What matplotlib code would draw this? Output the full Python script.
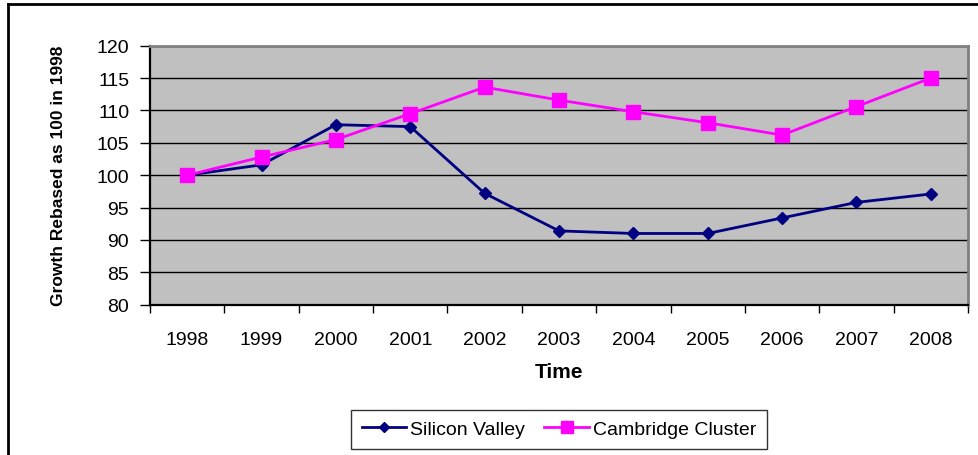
import numpy as np
import matplotlib
matplotlib.use("Agg")
import matplotlib.pyplot as plt
from matplotlib.lines import Line2D

plt.rcParams["font.family"] = ["Liberation Sans", "DejaVu Sans"]

years = ["1998", "1999", "2000", "2001", "2002", "2003",
         "2004", "2005", "2006", "2007", "2008"]
silicon_valley = [100.0, 101.6, 107.8, 107.5, 97.2, 91.4,
                  91.0, 91.0, 93.4, 95.8, 97.1]
cambridge = [100.0, 102.8, 105.5, 109.5, 113.6, 111.6,
             109.8, 108.1, 106.2, 110.6, 115.0]

W, H = 979, 456
fig = plt.figure(figsize=(W / 100, H / 100), dpi=100)

# outer chart border, only the left and top edges fall inside the image
fig.lines.append(Line2D([8 / W, 8 / W], [0, 1 - 5 / H], transform=fig.transFigure,
                        color="black", linewidth=2))
fig.lines.append(Line2D([8 / W, 1], [1 - 5 / H, 1 - 5 / H], transform=fig.transFigure,
                        color="black", linewidth=2))

ax = fig.add_axes([150 / W, (H - 305.7) / H, 818 / W, 259 / H])
ax.set_facecolor("#C0C0C0")

x = np.arange(len(years))
ax.plot(x, silicon_valley, color="#000080", linewidth=2,
        marker="D", markersize=6.5, label="Silicon Valley", zorder=3)
ax.plot(x, cambridge, color="#FF00FF", linewidth=2,
        marker="s", markersize=10, label="Cambridge Cluster", zorder=3)

ax.set_xlim(-0.5, len(years) - 0.5)
ax.set_ylim(80, 120)
ax.set_yticks(np.arange(80, 121, 5))
ax.yaxis.grid(True, color="black", linewidth=1)
ax.set_axisbelow(True)

ax.set_xticks(x)
ax.set_xticklabels(years)
ax.set_xticks(np.arange(-0.5, len(years)), minor=True)
ax.tick_params(axis="x", which="major", length=0, pad=19, labelsize=14)
ax.tick_params(axis="x", which="minor", length=6, width=1, color="black", direction="out")
ax.tick_params(axis="y", length=7, width=1, labelsize=14, pad=8)

for side in ("left", "bottom"):
    ax.spines[side].set_color("black")
    ax.spines[side].set_linewidth(1.6)
for side in ("top", "right"):
    ax.spines[side].set_color("#808080")
    ax.spines[side].set_linewidth(2)

ax.set_xlabel("Time", fontsize=15, fontweight="bold", labelpad=10)
ax.set_ylabel("Growth Rebased as 100 in 1998", fontsize=12.5,
              fontweight="bold", labelpad=22)

leg = fig.legend(loc="center", bbox_to_anchor=(559 / W, 1 - 430 / H),
                 ncol=2, frameon=True, fancybox=False, fontsize=14,
                 handlelength=2.3, columnspacing=1.0, handletextpad=0.2,
                 borderpad=0.55, markerscale=0.8)
leg.get_frame().set_edgecolor("black")
leg.get_frame().set_linewidth(1)

fig.savefig("out.png", dpi=100, facecolor="white")
